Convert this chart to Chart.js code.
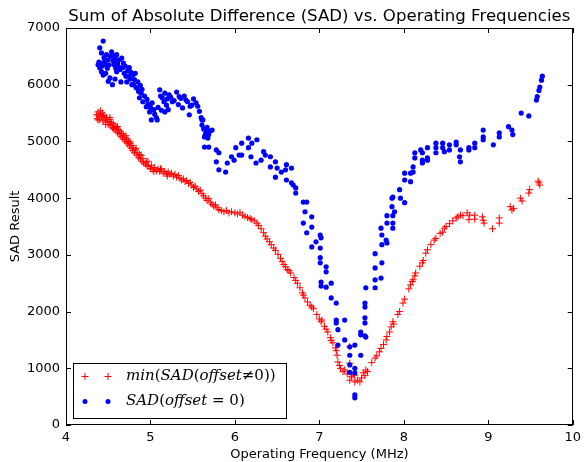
<!DOCTYPE html>
<html>
<head>
<meta charset="utf-8">
<script src="https://cdn.jsdelivr.net/npm/chart.js@4.4.1/dist/chart.umd.min.js"></script>
<style>
  html, body { margin: 0; padding: 0; background: #fff; }
  #wrap { width: 586px; height: 462px; }
</style>
</head>
<body>
<div id="wrap"><canvas id="myChart" width="586" height="462"></canvas></div>
<script>
// data
const xTicks = [4, 5, 6, 7, 8, 9, 10];
const yTicks = [0, 1000, 2000, 3000, 4000, 5000, 6000, 7000];

// min(SAD(offset != 0))
const minFreq = [
  4.36, 4.37, 4.38, 4.39, 4.40, 4.41, 4.42, 4.43, 4.44, 4.45, 4.46, 4.47, 4.48, 4.49, 4.50, 4.51,
  4.52, 4.53, 4.54, 4.55, 4.56, 4.57, 4.58, 4.59, 4.60, 4.61, 4.62, 4.63, 4.64, 4.65, 4.66, 4.67,
  4.68, 4.69, 4.70, 4.71, 4.72, 4.73, 4.74, 4.75, 4.76, 4.77, 4.78, 4.79, 4.80, 4.81, 4.82, 4.84,
  4.85, 4.86, 4.87, 4.88, 4.90, 4.91, 4.92, 4.94, 4.95, 4.96, 4.98, 5.00, 5.01, 5.03, 5.05, 5.07,
  5.09, 5.11, 5.13, 5.15, 5.17, 5.19, 5.21, 5.23, 5.25, 5.27, 5.29, 5.31, 5.33, 5.35, 5.37, 5.39,
  5.41, 5.43, 5.45, 5.47, 5.49, 5.51, 5.53, 5.55, 5.57, 5.59, 5.61, 5.63, 5.65, 5.67, 5.69, 5.71,
  5.73, 5.75, 5.77, 5.79, 5.81, 5.84, 5.87, 5.90, 5.93, 5.96, 6.00, 6.03, 6.06, 6.09, 6.12, 6.15,
  6.18, 6.20, 6.23, 6.26, 6.28, 6.31, 6.34, 6.36, 6.38, 6.41, 6.43, 6.46, 6.48, 6.51, 6.54, 6.56,
  6.58, 6.60, 6.62, 6.64, 6.66, 6.70, 6.72, 6.74, 6.77, 6.80, 6.81, 6.83, 6.86, 6.89, 6.91, 6.93,
  6.97, 7.00, 7.02, 7.03, 7.06, 7.08, 7.10, 7.13, 7.14, 7.16, 7.19, 7.20, 7.21, 7.22, 7.24, 7.25,
  7.28, 7.30, 7.33, 7.36, 7.36, 7.36, 7.38, 7.40, 7.42, 7.42, 7.45, 7.48, 7.50, 7.52, 7.54, 7.55,
  7.57, 7.62, 7.66, 7.68, 7.71, 7.73, 7.76, 7.79, 7.80, 7.83, 7.85, 7.87, 7.88, 7.93, 7.95, 7.99,
  8.01, 8.06, 8.08, 8.10, 8.11, 8.13, 8.14, 8.19, 8.22, 8.23, 8.26, 8.28, 8.32, 8.36, 8.38, 8.43,
  8.46, 8.48, 8.50, 8.54, 8.58, 8.62, 8.64, 8.67, 8.70, 8.75, 8.77, 8.78, 8.84, 8.84, 8.93, 8.95,
  8.94, 9.05, 9.13, 9.13, 9.26, 9.28, 9.30, 9.38, 9.40, 9.48, 9.49, 9.60, 9.61, 9.59,
  4.38, 4.41, 4.44, 4.47, 4.52, 4.56, 4.61, 4.66, 4.71, 4.76, 4.83, 4.89, 4.97, 5.04, 5.12, 5.20
];
const minSad = [
  5470, 5400, 5520, 5450, 5380, 5490, 5430, 5500, 5360, 5460, 5410, 5340, 5420, 5380, 5300, 5350,
  5390, 5280, 5330, 5250, 5310, 5230, 5270, 5200, 5240, 5160, 5210, 5130, 5180, 5090, 5140, 5060,
  5110, 5030, 5070, 4990, 5040, 4960, 5000, 4920, 4960, 4880, 4930, 4840, 4880, 4800, 4850, 4760,
  4800, 4720, 4770, 4690, 4650, 4700, 4620, 4600, 4640, 4570, 4560, 4520, 4580, 4500, 4540, 4480,
  4510, 4470, 4500, 4440, 4470, 4430, 4460, 4420, 4440, 4390, 4420, 4370, 4400, 4350, 4320, 4340,
  4290, 4310, 4260, 4280, 4230, 4190, 4210, 4160, 4120, 4140, 4080, 4040, 4000, 3960, 3990, 3920,
  3890, 3860, 3880, 3830, 3800, 3780, 3760, 3780, 3740, 3760, 3740, 3720, 3750, 3700, 3680, 3660,
  3640, 3620, 3600, 3560, 3520, 3460, 3390, 3330, 3280, 3230, 3180, 3120, 3080, 3010, 2940, 2880,
  2830, 2790, 2740, 2720, 2680, 2600, 2550, 2500, 2420, 2330, 2290, 2240, 2170, 2110, 2080, 2050,
  1950, 1870, 1820, 1850, 1740, 1690, 1640, 1540, 1490, 1450, 1360, 1310, 1230, 1110, 1050, 1000,
  940, 970, 900, 1380, 1090, 790, 850, 880, 760, 880, 790, 760, 830, 920, 870, 970,
  940, 1100, 1180, 1220, 1290, 1350, 1420, 1500, 1560, 1640, 1730, 1820, 1780, 1950, 2000, 2150,
  2220, 2400, 2470, 2530, 2560, 2630, 2680, 2800, 2860, 2900, 3030, 3090, 3180, 3260, 3290, 3380,
  3400, 3470, 3500, 3550, 3600, 3650, 3670, 3700, 3690, 3740, 3620, 3700, 3700, 3630, 3670, 3560,
  3610, 3460, 3650, 3560, 3850, 3790, 3820, 4000, 3950, 4090, 4150, 4270, 4230, 4300,
  5380, 5540, 5440, 5300, 5420, 5220, 5260, 5140, 5100, 4990, 4880, 4760, 4650, 4470, 4520, 4390
];

// SAD(offset = 0)
const zeroFreq = [
  4.38, 4.39, 4.40, 4.40, 4.41, 4.42, 4.42, 4.43, 4.44, 4.44, 4.45, 4.46, 4.47, 4.47, 4.48, 4.49,
  4.50, 4.50, 4.51, 4.52, 4.53, 4.54, 4.55, 4.55, 4.56, 4.57, 4.58, 4.58, 4.59, 4.60, 4.60, 4.61,
  4.62, 4.63, 4.64, 4.65, 4.66, 4.67, 4.68, 4.69, 4.70, 4.71, 4.72, 4.73, 4.74, 4.75, 4.76, 4.77,
  4.78, 4.79, 4.80, 4.81, 4.82, 4.83, 4.84, 4.85, 4.86, 4.87, 4.88, 4.89, 4.90, 4.91, 4.93, 4.95,
  4.96, 4.97, 4.99, 5.00, 5.01, 5.02, 5.04, 5.05, 5.07, 5.08, 5.09, 5.11, 5.12, 5.13, 5.14, 5.16,
  5.17, 5.17, 5.19, 5.20, 5.21, 5.22, 5.24, 5.26, 5.28, 5.31, 5.33, 5.34, 5.36, 5.38, 5.40, 5.42,
  5.44, 5.46, 5.47, 5.49, 5.51, 5.54, 5.56, 5.58, 5.60, 5.61, 5.61, 5.62, 5.63, 5.64, 5.64, 5.65,
  5.66, 5.66, 5.67, 5.68, 5.69, 5.69, 5.70, 5.73, 5.78, 5.78, 5.81, 5.81, 5.89, 5.91, 5.96, 5.99,
  6.01, 6.05, 6.08, 6.08, 6.16, 6.16, 6.19, 6.20, 6.25, 6.26, 6.31, 6.34, 6.36, 6.42, 6.42, 6.48,
  6.48, 6.50, 6.55, 6.60, 6.61, 6.61, 6.67, 6.67, 6.69, 6.72, 6.72, 6.81, 6.85, 6.83, 6.91, 6.81,
  6.91, 6.85, 7.01, 7.02, 6.96, 6.91, 7.01, 7.01, 7.01, 7.08, 7.08, 7.02, 7.14, 7.02, 7.08, 7.14,
  7.20, 7.20, 7.20, 7.30, 7.22, 7.30, 7.22, 7.36, 7.36, 7.42, 7.36, 7.42, 7.36, 7.42, 7.49, 7.49,
  7.54, 7.49, 7.55, 7.42, 7.42, 7.54, 7.54, 7.54, 7.54, 7.55, 7.66, 7.66, 7.66, 7.66, 7.73, 7.74,
  7.74, 7.74, 7.73, 7.79, 7.80, 7.80, 7.80, 7.87, 7.87, 7.87, 7.89, 7.86, 7.86, 7.87, 7.96, 7.95,
  8.01, 8.01, 8.01, 8.08, 8.08, 8.11, 8.11, 8.13, 8.13, 8.20, 8.22, 8.22, 8.22, 8.28, 8.28, 8.28,
  8.38, 8.38, 8.38, 8.46, 8.46, 8.48, 8.54, 8.54, 8.62, 8.62, 8.66, 8.67, 8.67, 8.77, 8.77, 8.84,
  8.84, 8.94, 8.94, 8.94, 9.06, 9.13, 9.13, 9.24, 9.28, 9.29, 9.39, 9.48, 9.57, 9.58, 9.60, 9.61,
  9.63, 9.64
];
const zeroSad = [
  6350, 6400, 6650, 6300, 6380, 6560, 6230, 6330, 6770, 6170, 6480, 6420, 6360, 6200, 6530, 6290,
  6440, 6060, 6350, 6120, 6500, 6580, 6530, 6000, 6420, 6350, 6460, 6100, 6290, 6530, 6230, 6380,
  6320, 6440, 6270, 6050, 6470, 6300, 6380, 6200, 6330, 6150, 6050, 6250, 6150, 6300, 6100, 6220,
  6000, 6170, 6000, 6090, 6200, 5950, 5940, 6050, 5880, 5770, 5990, 5850, 5920, 5700, 5800, 5610,
  5740, 5660, 5520, 5600, 5380, 5680, 5560, 5480, 5420, 5380, 5600, 5910, 5800, 5550, 5770, 5700,
  5850, 5520, 5640, 5750, 5560, 5820, 5780, 5700, 5720, 5870, 5650, 5790, 5760, 5590, 5800, 5730,
  5700, 5470, 5620, 5640, 5750, 5680, 5620, 5530, 5420, 5290, 5380, 5380, 5220, 5080, 4900, 5120,
  5170, 5150, 5250, 5060, 5120, 4900, 5180, 5200, 4850, 4640, 4800, 4500, 4460, 4620, 4730, 4670,
  4890, 4760, 4760, 4970, 5060, 4890, 4730, 4970, 4620, 5030, 4670, 4820, 4760, 4730, 4550, 4640,
  4370, 4530, 4460, 4500, 4590, 4320, 4530, 4270, 4230, 4180, 4090, 3930, 3930, 3760, 3670, 3560,
  3490, 3390, 3350, 3300, 3230, 3140, 3120, 2950, 2860, 2790, 2700, 2520, 2500, 2450, 2430, 2240,
  2150, 1850, 1800, 1850, 1680, 1500, 1410, 1380, 1230, 1410, 1060, 1000, 930, 920, 1640, 1590,
  1570, 1230, 1550, 530, 480, 1800, 1890, 2080, 2150, 2420, 2420, 2560, 2770, 3020, 2590, 2860,
  3180, 3350, 3470, 3260, 3210, 3560, 3690, 3470, 3560, 3690, 3760, 4000, 3850, 4020, 4000, 4150,
  3920, 4320, 4440, 4290, 4440, 4460, 4550, 4710, 4800, 4850, 4670, 4620, 4800, 4890, 4710, 4670,
  4970, 4890, 4800, 4970, 4890, 4820, 4940, 4850, 4990, 4940, 4730, 4640, 4850, 4890, 4850, 4970,
  4890, 5200, 5080, 5030, 4940, 5150, 5080, 5260, 5200, 5120, 5500, 5450, 5730, 5790, 5900, 5960,
  6080, 6150
];

const RED = 'rgb(255, 0, 0)';
const BLUE = 'rgb(0, 0, 255)';
const TITLE = 'Sum of Absolute Difference (SAD) vs. Operating Frequencies';

// box round the plot, inward ticks on all four sides, title centred on the axes
const frame = {
  id: 'frame',
  afterDatasetsDraw(chart) {
    const { ctx, chartArea: a, scales: { x, y } } = chart;
    ctx.save();
    ctx.strokeStyle = '#000';
    ctx.lineWidth = 1;
    ctx.beginPath();
    xTicks.forEach(v => {
      const px = Math.round(x.getPixelForValue(v)) + 0.5;
      ctx.moveTo(px, a.bottom); ctx.lineTo(px, a.bottom - 5);
      ctx.moveTo(px, a.top); ctx.lineTo(px, a.top + 5);
    });
    yTicks.forEach(v => {
      const py = Math.round(y.getPixelForValue(v)) + 0.5;
      ctx.moveTo(a.left, py); ctx.lineTo(a.left + 5, py);
      ctx.moveTo(a.right, py); ctx.lineTo(a.right - 5, py);
    });
    ctx.stroke();
    ctx.strokeRect(Math.round(a.left) + 0.5, Math.round(a.top) + 0.5,
      Math.round(a.width) - 1, Math.round(a.height) - 1);

    ctx.fillStyle = '#000';
    ctx.font = '16.6px "DejaVu Sans"';
    ctx.textAlign = 'center';
    ctx.textBaseline = 'middle';
    ctx.fillText(TITLE, (a.left + a.right) / 2, a.top - 11);
    ctx.restore();
  }
};

// legend in the lower left corner, math-style labels
function drawMath(ctx, parts, x, y, size) {
  let cx = x;
  parts.forEach(([txt, it]) => {
    ctx.font = (it ? 'italic ' : '') + size + 'px "DejaVu Serif"';
    ctx.fillText(txt, cx, y);
    cx += ctx.measureText(txt).width;
  });
}

const mathLegend = {
  id: 'mathLegend',
  afterDraw(chart) {
    const { ctx, chartArea: a } = chart;
    const bx = a.left + 7, by = a.bottom - 62, bw = 213, bh = 55;
    ctx.save();
    ctx.fillStyle = '#fff';
    ctx.fillRect(bx, by, bw, bh);
    ctx.strokeStyle = '#000';
    ctx.lineWidth = 1;
    ctx.strokeRect(bx + 0.5, by + 0.5, bw, bh);

    const r1 = by + 13.5, r2 = by + 38.5;
    ctx.strokeStyle = RED;
    ctx.beginPath();
    [bx + 12, bx + 35].forEach(mx => {
      ctx.moveTo(mx - 3.5, r1); ctx.lineTo(mx + 3.5, r1);
      ctx.moveTo(mx, r1 - 3.5); ctx.lineTo(mx, r1 + 3.5);
    });
    ctx.stroke();
    ctx.fillStyle = BLUE;
    [bx + 12, bx + 35].forEach(mx => {
      ctx.beginPath(); ctx.arc(mx, r2, 2.5, 0, Math.PI * 2); ctx.fill();
    });

    ctx.fillStyle = '#000';
    ctx.textBaseline = 'middle';
    drawMath(ctx, [['min', 1], ['(', 0], ['SAD', 1], ['(', 0], ['offset', 1], ['\u2260', 0], ['0))', 0]],
      bx + 53, r1, 15);
    drawMath(ctx, [['SAD', 1], ['(', 0], ['offset', 1], [' = ', 0], ['0)', 0]],
      bx + 53, r2, 15);
    ctx.restore();
  }
};

const data = {
  datasets: [{
    label: 'SAD(offset=0)',
    data: zeroFreq.map((f, i) => ({ x: f, y: zeroSad[i] })),
    pointStyle: 'circle',
    pointRadius: 2.6,
    pointBackgroundColor: BLUE,
    pointBorderWidth: 0,
    borderColor: BLUE,
    showLine: false,
    order: 0
  }, {
    label: 'min(SAD(offset\u22600))',
    data: minFreq.map((f, i) => ({ x: f, y: minSad[i] })),
    pointStyle: 'cross',
    pointRadius: 3.5,
    pointBorderColor: RED,
    pointBorderWidth: 1,
    borderColor: RED,
    showLine: false,
    order: 1
  }]
};

const tickFont = { family: 'DejaVu Sans', size: 13 };

const config = {
  type: 'scatter',
  data,
  options: {
    responsive: false,
    animation: false,
    events: [],
    layout: { padding: { left: 0, right: 10, top: 28, bottom: 0 } },
    plugins: {
      legend: { display: false },
      tooltip: { enabled: false },
      title: { display: false }
    },
    scales: {
      x: {
        type: 'linear',
        min: 4, max: 10,
        afterBuildTicks: s => { s.ticks = xTicks.map(v => ({ value: v })); },
        afterFit: s => { s.height = 37; },
        grid: { display: false, drawTicks: false },
        border: { display: false },
        ticks: { color: '#000', font: tickFont, padding: 5, maxRotation: 0 },
        title: {
          display: true, text: 'Operating Frequency (MHz)', color: '#000',
          font: tickFont, padding: { top: 2, bottom: 0 }
        }
      },
      y: {
        type: 'linear',
        min: 0, max: 7000,
        afterBuildTicks: s => { s.ticks = yTicks.map(v => ({ value: v })); },
        afterFit: s => { s.width = 66; },
        grid: { display: false, drawTicks: false },
        border: { display: false },
        ticks: { color: '#000', font: tickFont, padding: 6, callback: v => String(v) },
        title: {
          display: true, text: 'SAD Result', color: '#000',
          font: tickFont, padding: { top: 8, bottom: 4 }
        }
      }
    }
  },
  plugins: [frame, mathLegend]
};

const myChart = new Chart(document.getElementById('myChart'), config);
</script>
</body>
</html>
